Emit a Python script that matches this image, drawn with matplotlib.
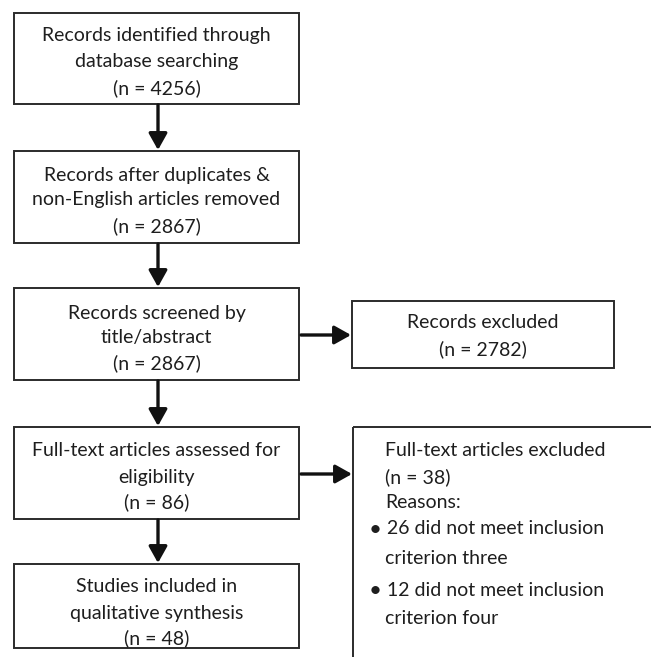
import matplotlib
matplotlib.use("Agg")
import matplotlib.pyplot as plt
from matplotlib.patches import Rectangle

plt.rcParams['font.family'] = ['Lato', 'DejaVu Sans']

# ---- content ----
main_labels = [
    "Records identified through\ndatabase searching",
    "Records after duplicates &\nnon-English articles removed",
    "Records screened by\ntitle/abstract",
    "Full-text articles assessed for\neligibility",
    "Studies included in\nqualitative synthesis",
]
main_counts = [4256, 2867, 2867, 86, 48]

excluded_label = "Records excluded"
excluded_count = 2782

fulltext_excl_label = "Full-text articles excluded"
fulltext_excl_count = 38
reasons_header = "Reasons:"
reasons_lines = [
    "26 did not meet inclusion\ncriterion three",
    "12 did not meet inclusion\ncriterion four",
]

# ---- layout (pixel space) ----
W, H = 651, 657
fig = plt.figure(figsize=(W / 100, H / 100), dpi=100)
ax = fig.add_axes([0, 0, 1, 1])
ax.set_xlim(0, W)
ax.set_ylim(H, 0)
ax.axis('off')

box_x0, box_x1 = 14, 299
main_boxes = [(13, 104), (151, 243), (288, 380), (427, 519), (564, 648)]
line_pos = [(35, 62, 88), (175, 200, 226), (313, 337, 363), (451, 477, 502), (587, 613, 638)]

EDGE = '#2b2b2b'
TXT = '#1e1e1e'
FS = 14.0
cx = (box_x0 + box_x1) / 2

for (y0, y1), lab, n, ys in zip(main_boxes, main_labels, main_counts, line_pos):
    ax.add_patch(Rectangle((box_x0, y0), box_x1 - box_x0, y1 - y0,
                           fill=False, ec=EDGE, lw=1.4))
    lines = lab.split("\n") + [f"(n = {n})"]
    for ty, t in zip(ys, lines):
        ax.text(cx, ty, t, ha='center', va='center', fontsize=FS, color=TXT)

def arrow(x0, y0, x1, y1):
    ax.annotate("", xy=(x1, y1), xytext=(x0, y0),
                arrowprops=dict(arrowstyle='-|>,head_length=0.5,head_width=0.28',
                                lw=2.4, color='#111111',
                                shrinkA=0, shrinkB=0, mutation_scale=20))

# vertical arrows
for (a0, a1), (b0, b1) in zip(main_boxes[:-1], main_boxes[1:]):
    arrow(158, a1 + 1, 158, b0 - 1)

# Records excluded box
ex_x0, ex_x1, ex_y0, ex_y1 = 352, 614, 301, 368
ax.add_patch(Rectangle((ex_x0, ex_y0), ex_x1 - ex_x0, ex_y1 - ex_y0,
                       fill=False, ec=EDGE, lw=1.4))
ecx = (ex_x0 + ex_x1) / 2
ax.text(ecx, 323, excluded_label, ha='center', va='center', fontsize=FS, color=TXT)
ax.text(ecx, 349, f"(n = {excluded_count})", ha='center', va='center', fontsize=FS, color=TXT)
arrow(box_x1 + 2, 335, ex_x0 - 1, 335)

# Full-text excluded box (runs off the image edges)
fx0, fy0 = 353, 427
ax.add_patch(Rectangle((fx0, fy0), 400, 400, fill=False, ec=EDGE, lw=1.4, clip_on=True))
arrow(box_x1 + 2, 474, fx0 - 1, 474)

tx = 385
ax.text(tx, 450, fulltext_excl_label, ha='left', va='center', fontsize=FS, color=TXT)
ax.text(tx, 477, f"(n = {fulltext_excl_count})", ha='left', va='center', fontsize=FS, color=TXT)
ax.text(tx, 503, reasons_header, ha='left', va='center', fontsize=FS, color=TXT)
reason_y = [(529, 559), (590, 619)]
for (ya, yb), r in zip(reason_y, reasons_lines):
    l1, l2 = r.split("\n")
    ax.text(375, ya + 1, "\u2022", ha='center', va='center', fontsize=FS + 2, color=TXT)
    ax.text(tx + 2, ya, l1, ha='left', va='center', fontsize=FS, color=TXT)
    ax.text(tx, yb, l2, ha='left', va='center', fontsize=FS, color=TXT)

fig.savefig("out.png", dpi=100, facecolor='white')
